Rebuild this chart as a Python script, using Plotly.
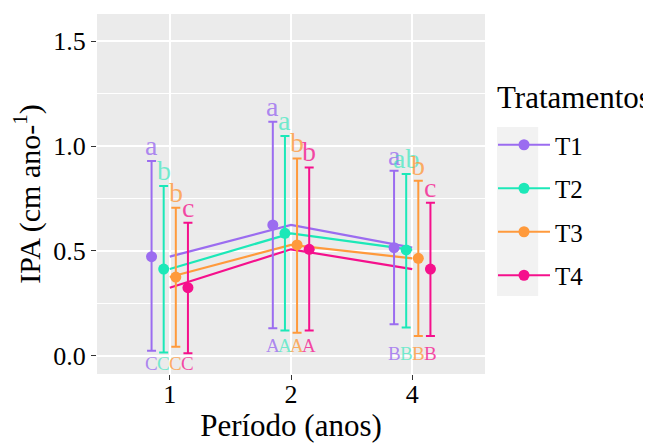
import plotly.graph_objects as go

# ---------------- data ----------------
periods = ["1", "2", "4"]
treatments = ["T1", "T2", "T3", "T4"]

mean_T1 = [0.473, 0.624, 0.516]
mean_T2 = [0.414, 0.584, 0.505]
mean_T3 = [0.376, 0.529, 0.465]
mean_T4 = [0.325, 0.508, 0.414]

upper_T1 = [0.929, 1.116, 0.882]
upper_T2 = [0.810, 1.048, 0.867]
upper_T3 = [0.706, 0.941, 0.835]
upper_T4 = [0.635, 0.898, 0.730]

lower_T1 = [0.025, 0.132, 0.151]
lower_T2 = [0.016, 0.121, 0.135]
lower_T3 = [0.044, 0.111, 0.095]
lower_T4 = [0.013, 0.121, 0.095]

letters_T1 = ["a", "a", "a"]
letters_T2 = ["b", "a", "ab"]
letters_T3 = ["b", "b", "b"]
letters_T4 = ["c", "b", "c"]

period_letters = ["C", "A", "B"]

# ---------------- style ----------------
colors = ["#9B6CF0", "#1CE8B8", "#FF9A3C", "#F5108C"]
letter_colors = ["rgba(155,108,240,0.8)", "rgba(28,232,184,0.6)",
                 "rgba(255,154,60,0.8)", "rgba(245,16,140,0.75)"]
FONT = "Liberation Serif, Times New Roman, serif"
dodge = [-0.15, -0.05, 0.05, 0.15]
period_letter_y = [-0.035, 0.052, 0.012]

means = [mean_T1, mean_T2, mean_T3, mean_T4]
uppers = [upper_T1, upper_T2, upper_T3, upper_T4]
lowers = [lower_T1, lower_T2, lower_T3, lower_T4]
letters = [letters_T1, letters_T2, letters_T3, letters_T4]

xpos = list(range(1, len(periods) + 1))

fig = go.Figure()
annotations = []

for i, t in enumerate(treatments):
    fig.add_trace(go.Scatter(
        x=xpos, y=means[i], mode="lines",
        line=dict(color=colors[i], width=2.2),
        showlegend=False, hoverinfo="skip"))

for i, t in enumerate(treatments):
    xd = [p + dodge[i] for p in xpos]
    fig.add_trace(go.Scatter(
        x=xd, y=means[i], mode="markers",
        marker=dict(color=colors[i], size=11),
        error_y=dict(type="data", symmetric=False,
                     array=[u - m for u, m in zip(uppers[i], means[i])],
                     arrayminus=[m - l for m, l in zip(means[i], lowers[i])],
                     color=colors[i], thickness=2, width=4.5),
        showlegend=False))
    fig.add_trace(go.Scatter(
        x=[None], y=[None], mode="lines+markers", name=t,
        legendgroup=t,
        line=dict(color=colors[i], width=2.2),
        marker=dict(color=colors[i], size=11)))
    for j in range(len(periods)):
        annotations.append(dict(
            x=xd[j], y=uppers[i][j], text=letters[i][j], showarrow=False,
            xref="x", yref="y", yanchor="bottom", yshift=-2,
            font=dict(family=FONT, size=28, color=letter_colors[i])))
        annotations.append(dict(
            x=xd[j], y=period_letter_y[j], text=period_letters[j], showarrow=False,
            xref="x", yref="y", yanchor="middle",
            font=dict(family=FONT, size=19, color=letter_colors[i])))

# legend title as annotation
annotations.append(dict(
    x=1.026, y=0.767, xref="paper", yref="paper", xanchor="left", yanchor="middle",
    text="Tratamentos", showarrow=False,
    font=dict(family=FONT, size=31, color="black")))

# page body has an 8px margin: shrink the figure so it fills the window exactly
fig.update_layout(
    width=643, height=435,
    margin=dict(l=89, r=166, t=6, b=69),
    paper_bgcolor="white", plot_bgcolor="#EBEBEB",
    font=dict(family=FONT, color="black"),
    annotations=annotations,
    legend=dict(
        font=dict(size=25, family=FONT, color="black"),
        x=1.0206, xanchor="left", y=0.70, yanchor="top",
        tracegroupgap=8, bgcolor="rgba(0,0,0,0)", itemwidth=52),
    shapes=[dict(type="rect", xref="paper", yref="paper",
                 x0=1.031, x1=1.137, y0=0.217, y1=0.686,
                 fillcolor="#F2F2F2", line=dict(width=0), layer="below")],
)

fig.update_xaxes(
    range=[0.4, 3.6], tickvals=xpos, ticktext=periods, automargin=False,
    showgrid=True, gridcolor="white", gridwidth=1.6, zeroline=False,
    ticks="outside", ticklen=5, tickcolor="#333333", tickwidth=1.2,
    ticklabelstandoff=-8,
    tickfont=dict(size=26, family=FONT, color="black"),
    title=dict(text="Período (anos)", font=dict(size=31, family=FONT, color="black"),
               standoff=7))

fig.update_yaxes(
    range=[-0.086, 1.629], tickvals=[0, 0.5, 1.0, 1.5], automargin=False,
    ticktext=["0.0", "0.5", "1.0", "1.5"],
    showgrid=True, gridcolor="white", gridwidth=1.6, zeroline=False,
    minor=dict(tickvals=[0.25, 0.75, 1.25], showgrid=True, gridcolor="white", gridwidth=0.7),
    ticks="outside", ticklen=5, tickcolor="#333333", tickwidth=1.2,
    tickfont=dict(size=26, family=FONT, color="black"),
    title=dict(text="IPA (cm ano-<sup>1</sup>)", font=dict(size=30, family=FONT, color="black"),
               standoff=12))

fig.write_html("out.html")
